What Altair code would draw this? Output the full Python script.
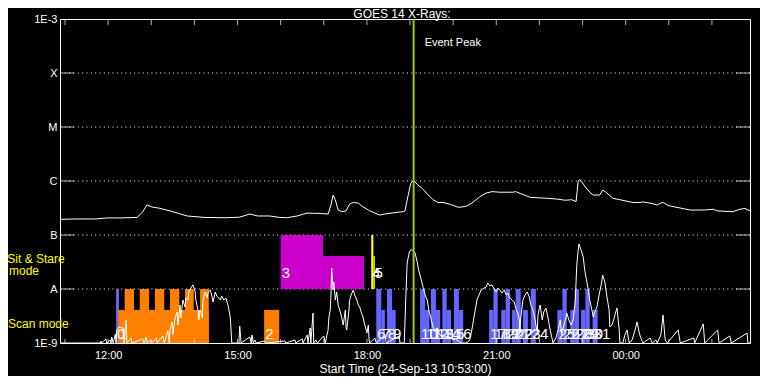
import altair as alt
import pandas as pd

# ---------------- data (time in minutes after 10:53 UT, 24-Sep-13) ----------------
# GOES 14 long channel (1-8 A), W/m^2
long_t = [0, 24, 49, 65, 83, 107, 115, 121, 128, 139,
          156, 177, 202, 232, 250, 264, 275, 292, 306, 316,
          330, 344, 362, 373, 377, 380, 383, 387, 392, 398,
          403, 408, 415, 420, 431, 445, 452, 466, 477, 480,
          483, 486, 488, 491, 494, 498, 504, 511, 519, 526,
          533, 543, 554, 559, 566, 573, 584, 593, 601, 612,
          623, 630, 634, 640, 654, 675, 691, 703, 712, 718,
          721, 723, 726, 732, 737, 742, 751, 755, 761, 769,
          779, 797, 807, 811, 821, 831, 835, 839, 845, 849,
          863, 877, 897, 909, 914, 936, 946, 953, 960]
long_flux = [1.95e-7, 1.98e-7, 1.98e-7, 2.07e-7, 2.07e-7, 2.11e-7, 2.67e-7, 3.6e-7, 3.3e-7, 3.12e-7,
             2.72e-7, 2.25e-7, 2.11e-7, 2.09e-7, 2.14e-7, 2.45e-7, 2.25e-7, 2.25e-7, 2.11e-7, 2.09e-7,
             2.25e-7, 2.55e-7, 2.5e-7, 2.45e-7, 3.6e-7, 5.5e-7, 4.5e-7, 2.9e-7, 2.7e-7, 2.8e-7,
             3.75e-7, 4.0e-7, 3.9e-7, 3.44e-7, 2.8e-7, 2.34e-7, 2.45e-7, 2.6e-7, 2.7e-7, 2.8e-7,
             4.45e-7, 6.8e-7, 9.05e-7, 1.0e-6, 9.6e-7, 8.4e-7, 7.3e-7, 5.75e-7, 4.5e-7, 4.0e-7,
             4.0e-7, 3.7e-7, 3.26e-7, 3.3e-7, 3.44e-7, 3.9e-7, 5.1e-7, 6.0e-7, 6.35e-7, 6.2e-7,
             6.2e-7, 6.2e-7, 6.35e-7, 5.9e-7, 5.0e-7, 4.8e-7, 4.64e-7, 4.4e-7, 4.5e-7, 4.14e-7,
             1.0e-6, 1.07e-6, 9.6e-7, 7.4e-7, 6.2e-7, 5.5e-7, 5.5e-7, 6.8e-7, 6.0e-7, 4.8e-7,
             4.5e-7, 4.0e-7, 4.0e-7, 4.1e-7, 3.9e-7, 3.6e-7, 3.85e-7, 4.0e-7, 3.6e-7, 3.44e-7,
             3.16e-7, 2.9e-7, 2.9e-7, 3.0e-7, 2.8e-7, 2.7e-7, 3.0e-7, 3.1e-7, 2.8e-7]

# GOES 14 short channel (0.5-4 A), W/m^2
short_t = [0, 56, 57, 58, 64, 65, 70, 71, 72, 74,
           77, 78, 79, 82, 88, 89, 92, 93, 99, 100,
           115, 117, 120, 121, 125, 127, 134, 135, 143, 145,
           150, 152, 153, 156, 157, 160, 163, 164, 167, 168,
           171, 174, 175, 178, 179, 182, 185, 188, 189, 192,
           193, 195, 198, 199, 202, 205, 206, 209, 211, 213,
           216, 218, 221, 223, 225, 228, 231, 234, 237, 239,
           249, 250, 252, 264, 266, 267, 269, 271, 273, 285,
           287, 313, 314, 327, 328, 337, 338, 344, 345, 348,
           349, 352, 353, 356, 358, 367, 369, 373, 374, 376,
           377, 378, 380, 381, 383, 385, 387, 390, 392, 394,
           397, 398, 399, 402, 403, 405, 408, 410, 413, 415,
           417, 419, 422, 423, 426, 427, 429, 430, 431, 438,
           440, 452, 454, 472, 473, 479, 481, 483, 486, 488,
           491, 494, 497, 499, 502, 505, 508, 511, 513, 516,
           519, 522, 525, 527, 530, 533, 536, 538, 543, 547,
           550, 554, 559, 566, 570, 573, 576, 579, 580, 583,
           586, 590, 593, 595, 598, 601, 604, 607, 609, 612,
           615, 618, 621, 623, 626, 629, 632, 634, 637, 639,
           640, 641, 644, 647, 650, 653, 655, 658, 661, 664,
           665, 668, 671, 673, 676, 679, 682, 685, 686, 690,
           693, 696, 698, 701, 704, 705, 708, 711, 714, 717,
           718, 719, 721, 722, 725, 728, 730, 733, 735, 737,
           740, 742, 744, 747, 750, 753, 755, 758, 761, 764,
           765, 768, 771, 774, 775, 778, 779, 783, 786, 789,
           792, 796, 800, 803, 806, 808, 811, 821, 824, 829,
           831, 836, 839, 842, 845, 860, 863, 882, 883, 895,
           897, 915, 917, 932, 934, 956, 957, 960]
short_flux = [1.0e-9, 1.0e-9, 1.09e-9, 1.0e-9, 1.19e-9, 1.0e-9, 1.14e-9, 1.0e-9, 1.29e-9, 1.0e-9,
              1.47e-9, 1.0e-9, 1.74e-9, 1.98e-9, 1.90e-9, 1.0e-9, 2.67e-9, 1.0e-9, 1.24e-9, 1.0e-9,
              1.19e-9, 1.0e-9, 1.29e-9, 1.0e-9, 1.14e-9, 1.0e-9, 1.24e-9, 1.0e-9, 1.35e-9, 1.0e-9,
              1.67e-9, 1.0e-9, 1.74e-9, 2.45e-9, 1.41e-9, 2.90e-9, 3.75e-9, 2.15e-9, 5.06e-9, 2.90e-9,
              6.25e-9, 4.64e-9, 6.81e-9, 6.25e-9, 8.80e-9, 1.04e-8, 1.19e-8, 8.80e-9, 6.25e-9, 4.08e-9,
              2.67e-9, 4.08e-9, 2.90e-9, 6.25e-9, 8.80e-9, 6.81e-9, 8.80e-9, 9.58e-9, 7.74e-9, 5.74e-9,
              8.80e-9, 7.40e-9, 6.81e-9, 6.25e-9, 7.40e-9, 6.25e-9, 6.81e-9, 4.85e-9, 2.90e-9, 1.0e-9,
              1.0e-9, 2.06e-9, 1.0e-9, 1.29e-9, 1.0e-9, 1.41e-9, 1.0e-9, 1.14e-9, 1.0e-9, 1.09e-9,
              1.0e-9, 1.09e-9, 1.0e-9, 1.14e-9, 1.0e-9, 1.19e-9, 1.0e-9, 1.41e-9, 1.0e-9, 1.90e-9,
              1.0e-9, 3.59e-9, 1.0e-9, 1.14e-9, 1.0e-9, 1.35e-9, 1.0e-9, 1.74e-9, 2.90e-9, 4.08e-9,
              7.74e-9, 2.45e-8, 9.58e-9, 1.35e-8, 6.25e-9, 8.80e-9, 5.06e-9, 3.75e-9, 2.90e-9, 2.15e-9,
              4.08e-9, 1.90e-9, 1.74e-9, 4.08e-9, 6.25e-9, 7.74e-9, 9.58e-9, 7.74e-9, 6.25e-9, 5.06e-9,
              4.64e-9, 3.75e-9, 2.90e-9, 2.45e-9, 1.74e-9, 1.53e-9, 2.15e-9, 1.14e-9, 1.0e-9, 1.24e-9,
              1.0e-9, 1.41e-9, 1.0e-9, 1.35e-9, 1.0e-9, 1.0e-9, 6.25e-9, 3.03e-8, 4.84e-8, 5.27e-8,
              5.27e-8, 4.64e-8, 3.16e-8, 2.25e-8, 1.59e-8, 1.09e-8, 7.74e-9, 6.25e-9, 4.08e-9, 2.90e-9,
              1.98e-9, 1.74e-9, 1.90e-9, 1.53e-9, 1.35e-9, 1.41e-9, 1.24e-9, 1.35e-9, 1.24e-9, 1.14e-9,
              1.19e-9, 1.09e-9, 1.0e-9, 1.0e-9, 1.14e-9, 1.74e-9, 3.03e-9, 5.06e-9, 6.25e-9, 7.74e-9,
              9.58e-9, 1.04e-8, 1.09e-8, 1.29e-8, 1.14e-8, 1.19e-8, 1.0e-8, 8.80e-9, 1.04e-8, 9.58e-9,
              8.43e-9, 9.58e-9, 7.74e-9, 8.43e-9, 6.81e-9, 6.25e-9, 5.74e-9, 4.45e-9, 3.59e-9, 2.67e-9,
              1.53e-9, 2.90e-9, 6.25e-9, 7.74e-9, 8.80e-9, 7.10e-9, 5.06e-9, 4.08e-9, 2.67e-9, 1.53e-9,
              3.30e-9, 5.06e-9, 2.67e-9, 3.75e-9, 4.45e-9, 2.90e-9, 1.74e-9, 1.14e-9, 1.0e-9, 1.24e-9,
              1.74e-9, 2.67e-9, 1.41e-9, 2.15e-9, 2.90e-9, 3.59e-9, 2.67e-9, 2.15e-9, 2.67e-9, 6.25e-9,
              1.35e-8, 2.78e-8, 5.27e-8, 6.81e-8, 5.27e-8, 3.90e-8, 2.25e-8, 1.35e-8, 9.58e-9, 6.25e-9,
              4.08e-9, 3.03e-9, 3.75e-9, 4.64e-9, 7.74e-9, 1.19e-8, 1.81e-8, 1.35e-8, 7.10e-9, 4.08e-9,
              1.98e-9, 2.15e-9, 2.90e-9, 4.08e-9, 4.45e-9, 1.74e-9, 1.0e-9, 1.0e-9, 1.41e-9, 1.74e-9,
              1.0e-9, 1.14e-9, 1.74e-9, 2.45e-9, 1.53e-9, 1.24e-9, 1.0e-9, 1.24e-9, 1.0e-9, 1.14e-9,
              1.0e-9, 1.41e-9, 3.30e-9, 1.14e-9, 1.0e-9, 1.74e-9, 1.0e-9, 1.24e-9, 1.0e-9, 2.25e-9,
              1.0e-9, 1.74e-9, 1.0e-9, 1.35e-9, 1.0e-9, 1.53e-9, 1.0e-9, 1.0e-9]

# observation bars (scan / sit & stare mode blocks)
bar_start = [78, 81, 90, 111, 132, 153, 174, 195, 284, 307,
             366, 433, 436, 440, 447, 455, 462, 501, 508, 516,
             523, 532, 538, 548, 555, 597, 603, 614, 620, 629,
             634, 644, 655, 692, 699, 710, 716, 725, 731, 741]
bar_end = [82, 207, 103, 124, 145, 166, 186, 207, 305, 366,
           423, 436, 438, 447, 452, 462, 467, 508, 514, 523,
           529, 538, 544, 555, 561, 603, 609, 620, 626, 634,
           641, 651, 662, 699, 705, 716, 722, 731, 737, 748]
bar_low = [1e-9, 1e-9, 1e-9, 1e-9, 1e-9, 1e-9, 1e-9, 1e-9, 1e-9, 1e-8,
           1e-8, 1e-8, 1e-8, 1e-9, 1e-9, 1e-9, 1e-9, 1e-9, 1e-9, 1e-9,
           1e-9, 1e-9, 1e-9, 1e-9, 1e-9, 1e-9, 1e-9, 1e-9, 1e-9, 1e-9,
           1e-9, 1e-9, 1e-9, 1e-9, 1e-9, 1e-9, 1e-9, 1e-9, 1e-9, 1e-9]
bar_high = [1e-8, 4.1e-9, 1e-8, 1e-8, 1e-8, 1e-8, 1e-8, 1e-8, 4.1e-9, 1e-7,
            4.1e-8, 1e-7, 4.1e-8, 1e-8, 4.1e-9, 1e-8, 4.1e-9, 1e-8, 4.1e-9, 1e-8,
            4.1e-9, 1e-8, 4.1e-9, 1e-8, 4.1e-9, 4.1e-9, 1e-8, 4.1e-9, 1e-8, 4.1e-9,
            1e-8, 4.1e-9, 1e-8, 4.1e-9, 1e-8, 4.1e-9, 1e-8, 4.1e-9, 1e-8, 4.1e-9]
bar_kind = ["blue", "orange", "orange", "orange", "orange", "orange", "orange", "orange", "orange", "magenta",
            "magenta", "yellow", "yellow", "blue", "blue", "blue", "blue", "blue", "blue", "blue",
            "blue", "blue", "blue", "blue", "blue", "blue", "blue", "blue", "blue", "blue",
            "blue", "blue", "blue", "blue", "blue", "blue", "blue", "blue", "blue", "blue"]

obs_text = ["0", "1", "2", "3", "4", "5", "6", "7", "8", "9", "10", "11", "12", "13", "14", "15", "16",
            "17", "18", "19", "20", "21", "22", "23", "24", "25", "26", "27", "28", "29", "30", "31"]
obs_time = [78, 81, 284, 307, 433, 436, 440, 447, 455, 462, 501, 508, 516, 523, 532, 538, 548,
            597, 603, 614, 620, 629, 634, 644, 655, 692, 699, 710, 716, 725, 731, 741]
obs_band = ["scan", "scan", "scan", "sit", "sit", "sit", "scan", "scan", "scan", "scan", "scan", "scan",
            "scan", "scan", "scan", "scan", "scan", "scan", "scan", "scan", "scan", "scan", "scan", "scan",
            "scan", "scan", "scan", "scan", "scan", "scan", "scan", "scan"]

event_time = [492]
event_text = ["Event Peak"]
title_text = ["GOES 14 X-Rays:"]
mode_text = ["Sit & Stare", "mode", "Scan mode"]

hour_ticks = [7, 67, 127, 187, 247, 307, 367, 427, 487, 547, 607, 667, 727, 787, 847, 907]
x_tick_values = [67, 247, 427, 607, 787]
x_tick_labels = ["12:00", "15:00", "18:00", "21:00", "00:00"]
y_tick_exponents = [-3, -4, -5, -6, -7, -8, -9]
y_tick_labels = ["1E-3", "X", "M", "C", "B", "A", "1E-9"]
class_levels = [1e-4, 1e-5, 1e-6, 1e-7, 1e-8]

kind_domain = ["blue", "orange", "magenta", "yellow"]
kind_colors = ["#6666ff", "#ff8000", "#cc00cc", "#ffff00"]

# ---------------- chart ----------------
FONT = "Liberation Sans"
W, H = 690, 324
XS = alt.Scale(domain=[0, 960], nice=False, zero=False)
YS = alt.Scale(type="log", domain=[1e-9, 1e-3], nice=False)

x_expr = " : ".join(f"datum.value == {v} ? '{t}'" for v, t in zip(x_tick_values, x_tick_labels)) + " : ''"
y_expr = " : ".join(f"round(log(datum.value) / LN10) == {e} ? '{t}'"
                    for e, t in zip(y_tick_exponents, y_tick_labels)) + " : ''"

XA = alt.Axis(values=x_tick_values, labelExpr=x_expr, title="Start Time (24-Sep-13 10:53:00)",
              ticks=False, domain=False, grid=False, labelColor="white", titleColor="white",
              labelFont=FONT, titleFont=FONT, labelFontSize=11, titleFontSize=12,
              titleFontWeight="normal", labelPadding=6, titlePadding=3,
              labelFlush=False, labelOverlap=False)
YA = alt.Axis(values=[10.0 ** e for e in y_tick_exponents], labelExpr=y_expr, title=None,
              ticks=False, domain=False, grid=False, labelColor="white", labelFont=FONT,
              labelFontSize=11, labelPadding=3, labelOverlap=False, labelFlush=False)


def xf(field):
    return alt.X(field, scale=XS, axis=XA)


def yf(field):
    return alt.Y(field, scale=YS, axis=YA)


bars_df = pd.DataFrame({"start": bar_start, "end": bar_end, "low": bar_low,
                        "high": bar_high, "kind": bar_kind})
long_df = pd.DataFrame([{"t": t, "flux": f} for t, f in zip(long_t, long_flux)])
short_df = pd.DataFrame([{"t": t, "flux": f} for t, f in zip(short_t, short_flux)])
obs_df = pd.DataFrame([{"t": t, "s": s, "band": b} for t, s, b in zip(obs_time, obs_text, obs_band)])
lvl_df = pd.DataFrame({"level": class_levels})
hours_df = pd.DataFrame({"t": hour_ticks})
ev_df = pd.DataFrame({"t": event_time, "s": event_text})

grid = alt.Chart(lvl_df).mark_rule(color="white", strokeDash=[1, 3.33], strokeWidth=1).encode(
    y=yf("level:Q"))
tick_left = alt.Chart(lvl_df).mark_tick(color="white", orient="horizontal", size=14, thickness=1).encode(
    y=yf("level:Q"), x=alt.value(7))
tick_right = alt.Chart(lvl_df).mark_tick(color="white", orient="horizontal", size=14, thickness=1).encode(
    y=yf("level:Q"), x=alt.value(W - 7))
tick_top = alt.Chart(hours_df).mark_tick(color="white", orient="vertical", size=6, thickness=1).encode(
    x=xf("t:Q"), y=alt.value(3))
tick_bottom = alt.Chart(hours_df).mark_tick(color="white", orient="vertical", size=4, thickness=1).encode(
    x=xf("t:Q"), y=alt.value(H - 2))

bars = alt.Chart(bars_df).mark_rect().encode(
    x=xf("start:Q"), x2="end:Q", y=yf("low:Q"), y2="high:Q",
    color=alt.Color("kind:N", scale=alt.Scale(domain=kind_domain, range=kind_colors), legend=None))

long_line = alt.Chart(long_df).mark_line(color="white", strokeWidth=1, clip=True).encode(
    x=xf("t:Q"), y=yf("flux:Q"))
short_line = alt.Chart(short_df).mark_line(color="white", strokeWidth=1, clip=True).encode(
    x=xf("t:Q"), y=yf("flux:Q"))

scan_labels = alt.Chart(obs_df).transform_filter(alt.datum.band == "scan").mark_text(
    color="white", font=FONT, fontSize=15, align="left", baseline="alphabetic", dx=1, dy=-4).encode(
    x=xf("t:Q"), y=alt.datum(1e-9, scale=YS, axis=YA), text="s:N")
sit_labels = alt.Chart(obs_df).transform_filter(alt.datum.band == "sit").mark_text(
    color="white", font=FONT, fontSize=15, align="left", baseline="alphabetic", dx=1, dy=-11).encode(
    x=xf("t:Q"), y=alt.datum(1e-8, scale=YS, axis=YA), text="s:N")

event_rule = alt.Chart(ev_df).mark_rule(color="#99cc00", strokeWidth=2).encode(x=xf("t:Q"))
event_label = alt.Chart(ev_df).mark_text(color="white", font=FONT, fontSize=11, align="left",
                                         baseline="middle", dx=11).encode(
    x=xf("t:Q"), y=alt.value(24), text="s:N")

title_df = pd.DataFrame({"s": title_text})
title_mark = alt.Chart(title_df).mark_text(color="white", font=FONT, fontSize=12, align="center",
                                           baseline="alphabetic").encode(
    x=alt.value(W / 2 - 3), y=alt.value(-1.5), text="s:N")

mode_df = pd.DataFrame({"s": mode_text})
mode_sit = alt.Chart(mode_df).transform_filter(alt.datum.s == mode_text[0]).mark_text(
    color="#ffff00", font=FONT, fontSize=12, align="center", baseline="middle").encode(
    x=alt.value(-24), y=alt.value(240), text="s:N")
mode_sit2 = alt.Chart(mode_df).transform_filter(alt.datum.s == mode_text[1]).mark_text(
    color="#ffff00", font=FONT, fontSize=12, align="center", baseline="middle").encode(
    x=alt.value(-36), y=alt.value(252), text="s:N")
mode_scan = alt.Chart(mode_df).transform_filter(alt.datum.s == mode_text[2]).mark_text(
    color="#ffff00", font=FONT, fontSize=12, align="left", baseline="middle").encode(
    x=alt.value(-52), y=alt.value(305), text="s:N")

chart = alt.layer(
    grid, tick_left, tick_right, bars, long_line, short_line, event_rule,
    scan_labels, sit_labels, event_label, tick_top, tick_bottom,
    title_mark, mode_sit, mode_sit2, mode_scan,
).properties(
    width=W, height=H,
    autosize=alt.AutoSizeParams(type="none"),
    padding={"left": 52, "top": 11, "right": 10, "bottom": 33},
).configure(background="black").configure_view(stroke="white", strokeWidth=1)

chart.save("out.html", embed_options={"renderer": "svg", "actions": False})
